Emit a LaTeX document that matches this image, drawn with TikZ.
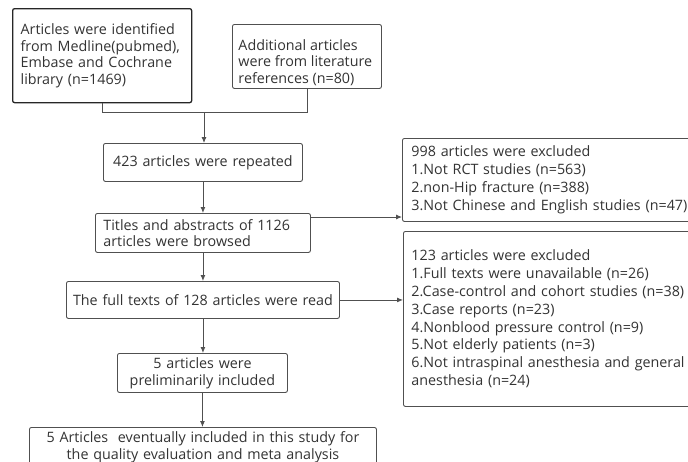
\documentclass[tikz,border=0pt]{standalone}
\usepackage{fontspec}
\setmainfont{Open Sans}
\usetikzlibrary{arrows.meta}
\definecolor{ink}{HTML}{333333}
\definecolor{edge}{HTML}{505050}
\begin{document}
\begin{tikzpicture}[x=1pt,y=-1pt,
  box/.style={draw=edge, line width=0.9pt, rounded corners=2pt, text=ink,
    inner xsep=8pt, inner ysep=0pt, anchor=north west,
    font=\fontsize{14.3}{16.7}\selectfont},
  rbox/.style={box, font=\fontsize{14.3}{17.8}\selectfont},
  arr/.style={draw=edge, line width=0.9pt, -{Latex[length=6pt,width=5pt]}},
  ln/.style={draw=edge, line width=0.9pt}]
\useasboundingbox (0,0) rectangle (688,461);
\clip (0,0) rectangle (688,461);
\fill[white] (0,0) rectangle (688,461);

\node[box, draw=black!85, line width=1.3pt, minimum width=179, minimum height=94,
  text width=163, align=left] (src) at (12,8)
  {Articles were identified\\from Medline(pubmed),\\Embase and Cochrane\\library (n=1469)};
\node[box, inner xsep=6pt, minimum width=149, minimum height=64] (add) at (232,24)
  {\raisebox{-6pt}[\height][\depth]{\parbox{137pt}{\raggedright Additional articles\\were from literature\\references (n=80)}}};
\node[box, minimum width=199, minimum height=38, text width=183, align=center] (rep) at (103,143)
  {423 articles were repeated};
\node[box, minimum width=215, minimum height=39, text width=199, align=left] (tit) at (95,213)
  {Titles and abstracts of 1126\\articles were browsed};
\node[box, inner xsep=3pt, minimum width=273, minimum height=37, text width=267, align=center] (full) at (66,281)
  {The full texts of 128 articles were read};
\node[box, minimum width=170, minimum height=39, text width=154, align=center] (pre) at (117,353)
  {5 articles were\\preliminarily included};
\node[box, inner xsep=3pt, minimum width=347, minimum height=40, text width=341, align=center] (fin) at (29,427)
  {5 Articles\ \ eventually included in this study for\\the quality evaluation and meta analysis};
\node[rbox, inner xsep=9pt, minimum width=300, minimum height=83, text width=282, align=left] (r1) at (402,138)
  {998 articles were excluded\\1.Not RCT studies (n=563)\\2.non-Hip fracture (n=388)\\3.Not Chinese and English studies (n=47)};
\node[rbox, minimum width=300, minimum height=175, text width=284, align=left] (r2) at (403,231)
  {123 articles were excluded\\1.Full texts were unavailable (n=26)\\2.Case-control and cohort studies (n=38)\\3.Case reports (n=23)\\4.Nonblood pressure control (n=9)\\5.Not elderly patients (n=3)\\6.Not intraspinal anesthesia and general\\anesthesia (n=24)};

\coordinate (j) at (204,112);
\draw[ln] (src.south) |- (j);
\draw[ln] (add.south) |- (j);
\draw[arr] (j) -- (j |- rep.north);
\draw[arr] (rep.south) -- (rep.south |- tit.north);
\draw[arr] (tit.south) -- (tit.south |- full.north);
\draw[arr] (full.south) -- (full.south |- pre.north);
\draw[arr] (pre.south) -- (pre.south |- fin.north);
\path ([yshift=-4pt]tit.north east) coordinate (t1);
\draw[arr] (t1) -- (t1 -| r1.west);
\draw[arr] (full.east) -- (full.east -| r2.west);
\end{tikzpicture}
\end{document}
